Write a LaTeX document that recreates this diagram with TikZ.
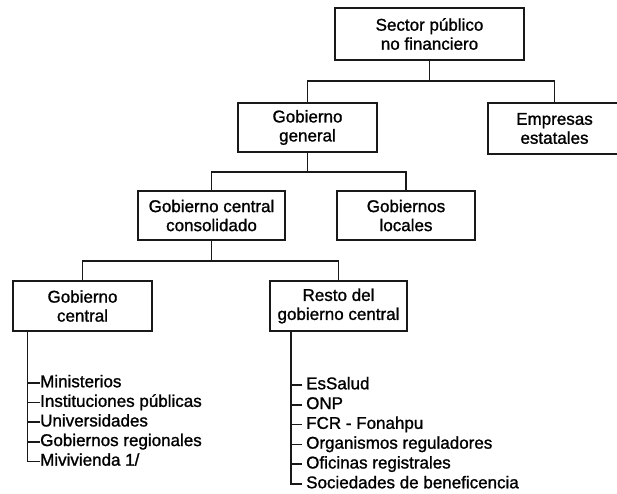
\documentclass[tikz,border=0pt]{standalone}
\usepackage{fontspec}
\setmainfont{Liberation Sans}[BoldFont=Liberation Sans, BoldFeatures={FakeBold=1.2}]
\begin{document}
\begin{tikzpicture}[x=1pt,y=-1pt,
  orgbox/.style={draw=black!90, line width=1.8pt, fill=white, align=center, inner sep=0pt,
    font=\fontsize{17}{19}\selectfont\bfseries},
  link/.style={draw=black!90, line width=1.5pt},
  item/.style={anchor=west, inner sep=0pt, text height=12pt, text depth=3.5pt,
    font=\fontsize{17}{19}\selectfont\bfseries}]
\useasboundingbox (0,0) rectangle (617,493);
\clip (0,0) rectangle (617,493);

% hierarchy boxes
\node[orgbox, minimum width=189pt, minimum height=52pt] (spnf) at (429.5,34) {Sector público\\no financiero};
\node[orgbox, minimum width=139pt, minimum height=49pt] (gg) at (307.5,127.5) {Gobierno\\general};
\node[orgbox, minimum width=133pt, minimum height=51pt] (emp) at (554.5,128.5) {Empresas\\estatales};
\node[orgbox, minimum width=147pt, minimum height=49pt] (gcc) at (211.5,215.5) {Gobierno central\\consolidado};
\node[orgbox, minimum width=138pt, minimum height=49pt] (gl) at (406,215.5) {Gobiernos\\locales};
\node[orgbox, minimum width=139pt, minimum height=50pt] (gc) at (82.5,306) {Gobierno\\central};
\node[orgbox, minimum width=137pt, minimum height=50pt] (rgc) at (338.5,306) {Resto del\\gobierno central};

% tree connectors
\draw[link] (spnf.south) -- ++(0,20) -| (gg.north);
\draw[link] (spnf.south) -- ++(0,20) -| (emp.north);
\draw[link] (gg.south) -- ++(0,19) -| (gcc.north);
\draw[link] (gg.south) -- ++(0,19) -| (gl.north);
\draw[link] (gcc.south) -- ++(0,20) -| (gc.north);
\draw[link] (gcc.south) -- ++(0,20) -| (rgc.north);

% members of the central government
\node[item] (l1) at (40,383) {Ministerios};
\node[item] (l2) at (40,402.6) {Instituciones públicas};
\node[item] (l3) at (40,422.2) {Universidades};
\node[item] (l4) at (40,441.8) {Gobiernos regionales};
\node[item] (l5) at (40,461.4) {Mivivienda 1/};
\coordinate (lstem) at ([xshift=15.5pt]gc.south west);
\draw[link] (lstem) |- (l5.west);
\foreach \i in {1,...,4} \draw[link] (lstem |- l\i.west) -- (l\i.west);

% rest of the central government
\node[item] (r1) at (306,385) {EsSalud};
\node[item] (r2) at (306,404.8) {ONP};
\node[item] (r3) at (306,424.6) {FCR - Fonahpu};
\node[item] (r4) at (306,444.4) {Organismos reguladores};
\node[item] (r5) at (306,464.2) {Oficinas registrales};
\node[item] (r6) at (306,484) {Sociedades de beneficencia};
\coordinate (rstem) at ([xshift=22pt]rgc.south west);
\draw[link] (rstem) |- ([xshift=-4pt]r6.west);
\foreach \i in {1,...,5} \draw[link] (rstem |- r\i.west) -- ([xshift=-4pt]r\i.west);
\end{tikzpicture}
\end{document}
